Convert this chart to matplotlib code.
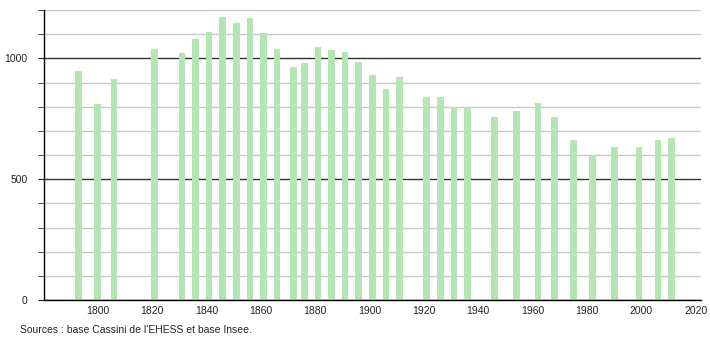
import matplotlib
matplotlib.use("Agg")
import matplotlib.pyplot as plt
from matplotlib.ticker import MultipleLocator

plt.rcParams['font.family'] = ['Liberation Sans', 'DejaVu Sans']

years = [1793, 1800, 1806, 1821, 1831, 1836, 1841, 1846, 1851, 1856, 1861, 1866,
         1872, 1876, 1881, 1886, 1891, 1896, 1901, 1906, 1911, 1921, 1926, 1931,
         1936, 1946, 1954, 1962, 1968, 1975, 1982, 1990, 1999, 2006, 2011]
population = [947, 809, 913, 1040, 1021, 1079, 1108, 1169, 1145, 1165, 1106, 1037,
              964, 982, 1047, 1033, 1025, 983, 929, 875, 921, 841, 841, 798,
              798, 758, 784, 816, 758, 664, 600, 632, 632, 664, 672]
x_ticks = [1800, 1820, 1840, 1860, 1880, 1900, 1920, 1940, 1960, 1980, 2000, 2020]
y_ticks = [0, 500, 1000]
source_text = "Sources : base Cassini de l'EHESS et base Insee."

fig = plt.figure(figsize=(7.1, 3.4), dpi=100)
ax = fig.add_axes([0.062, 0.1176, 0.925, 0.853])

ax.set_xlim(1780.3, 2021.8)
ax.set_ylim(0, 1200)

# gridlines
ax.yaxis.set_minor_locator(MultipleLocator(100))
ax.set_yticks(y_ticks)
ax.grid(axis='y', which='minor', color='#c8c8c8', linewidth=1.0, zorder=0)
ax.grid(axis='y', which='major', color='#333333', linewidth=1.0, zorder=0)
ax.set_axisbelow(True)

ax.bar(years, population, width=2.4, color='#b3e6b3', edgecolor='none', zorder=2)

for s in ['top', 'right']:
    ax.spines[s].set_visible(False)
ax.spines['left'].set_color('black')
ax.spines['bottom'].set_color('black')
ax.spines['left'].set_linewidth(1.0)
ax.spines['bottom'].set_linewidth(1.0)

ax.set_xticks(x_ticks)
ax.set_xticklabels([str(v) for v in x_ticks])
ax.tick_params(axis='x', length=0, labelsize=7.5, pad=4, colors='#222222')
ax.tick_params(axis='y', which='major', length=4, labelsize=7.5, colors='#222222', pad=8)
ax.tick_params(axis='y', which='minor', length=4, color='#222222')

fig.text(0.028, 0.022, source_text, fontsize=7.5, color='#222222')

fig.savefig("out.png", dpi=100)
